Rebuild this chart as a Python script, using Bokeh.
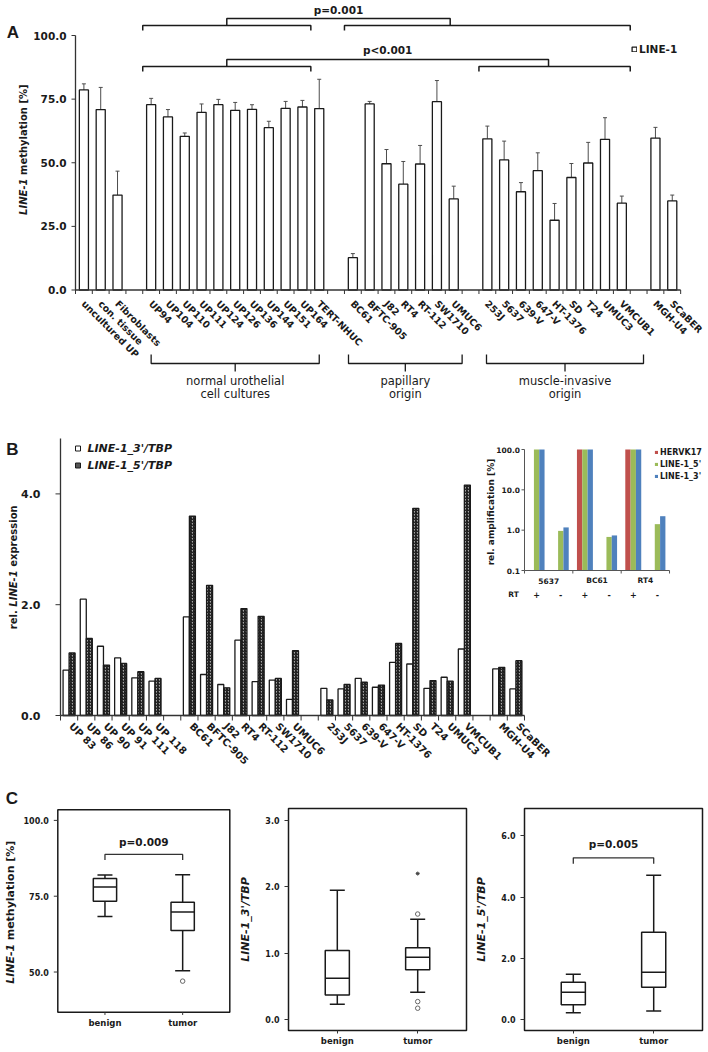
import math
from bokeh.plotting import figure
from bokeh.layouts import column, row
from bokeh.models import (ColumnDataSource, FactorRange, Range1d, FixedTicker, PrintfTickFormatter,
                          Whisker, TeeHead, Legend, LegendItem, LogScale)
from bokeh.transform import dodge
from bokeh.core.properties import value
from bokeh.embed import file_html
from bokeh.resources import INLINE

nan = float("nan")
FONT = "DejaVu Sans"
LETTER_FONT = "Liberation Sans"
INK = "#1a1a1a"
AXIS = "#333333"

# ---------------- Panel A data ----------------
a_samples = ["uncultured UP", "con. tissue", "Fibroblasts",
             "UP94", "UP104", "UP110", "UP111", "UP124", "UP126", "UP136", "UP144", "UP151", "UP164", "TERT-NHUC",
             "BC61", "BFTC-905", "J82", "RT4", "RT-112", "SW1710", "UMUC6",
             "253J", "5637", "639-V", "647-V", "HT-1376", "SD", "T24", "UMUC3", "VMCUB1",
             "MGH-U4", "SCaBER"]
a_methylation = [78.6, 70.9, 37.3,
                 72.8, 68.0, 60.4, 69.8, 72.8, 70.6, 71.0, 63.8, 71.4, 71.9, 71.3,
                 12.7, 73.1, 49.6, 41.6, 49.5, 74.0, 35.8,
                 59.4, 51.1, 38.6, 46.9, 27.4, 44.2, 49.9, 59.2, 34.1,
                 59.7, 35.0]
a_sd = [2.4, 8.7, 9.4,
        2.5, 2.9, 1.3, 3.3, 2.1, 3.1, 1.8, 2.5, 2.7, 2.6, 11.5,
        1.6, 1.0, 5.6, 8.9, 7.3, 8.3, 5.0,
        5.0, 7.4, 3.6, 7.0, 6.6, 5.5, 8.1, 8.5, 2.8,
        4.2, 2.3]
a_gap_after = ["Fibroblasts", "TERT-NHUC", "UMUC6", "VMCUB1"]
a_yticks = [0, 25, 50, 75, 100]
a_comparisons = ["p=0.001", "p<0.001"]
a_cmp_ref = [("UP94", "UP164"), ("UP94", "UP164")]
a_cmp_test = [("BC61", "VMCUB1"), ("253J", "VMCUB1")]
a_subsets = ["normal urothelial\ncell cultures", "papillary\norigin", "muscle-invasive\norigin"]
a_subset_span = [("UP94", "TERT-NHUC"), ("BC61", "UMUC6"), ("253J", "VMCUB1")]

# ---------------- Panel B data ----------------
b_samples = ["UP 83", "UP 86", "UP 90", "UP 91", "UP 111", "UP 118",
             "BC61", "BFTC-905", "J82", "RT4", "RT-112", "SW1710", "UMUC6",
             "253J", "5637", "639-V", "647-V", "HT-1376", "SD", "T24", "UMUC3", "VMCUB1",
             "MGH-U4", "SCaBER"]
b_line1_3 = [0.82, 2.10, 1.25, 1.04, 0.68, 0.62,
             1.78, 0.74, 0.56, 1.36, 0.61, 0.64, 0.29,
             0.49, 0.48, 0.67, 0.51, 0.96, 0.93, 0.49, 0.69, 1.20,
             0.84, 0.48]
b_line1_5 = [1.13, 1.39, 0.91, 0.94, 0.79, 0.67,
             3.60, 2.35, 0.50, 1.93, 1.79, 0.67, 1.17,
             0.28, 0.56, 0.60, 0.55, 1.30, 3.74, 0.63, 0.62, 4.16,
             0.87, 0.99]
b_gap_after = ["UP 118", "UMUC6", "VMCUB1"]
b_yticks = [0, 2, 4]
b_series = ["LINE-1_3'/TBP", "LINE-1_5'/TBP"]

# inset
inset_lines = ["5637", "BC61", "RT4"]
inset_rt = ["+", "-"]
inset_hervk17 = [nan, nan, 100.0, nan, 100.0, nan]
inset_line1_5 = [100.0, 0.96, 100.0, 0.68, 100.0, 1.41]
inset_line1_3 = [100.0, 1.17, 100.0, 0.74, 100.0, 2.22]
inset_series = ["HERVK17", "LINE-1_5'", "LINE-1_3'"]
inset_yticks = [0.1, 1.0, 10.0, 100.0]

# ---------------- Panel C data ----------------
c_groups = ["benign", "tumor"]
c_meth_q1 = [73.3, 63.7]
c_meth_med = [78.0, 69.8]
c_meth_q3 = [80.8, 73.0]
c_meth_lo = [68.3, 50.4]
c_meth_hi = [82.0, 82.1]
c_meth_out_grp = ["tumor"]
c_meth_out = [47.0]
c_meth_yticks = [50, 75, 100]

c_l3_q1 = [0.37, 0.75]
c_l3_med = [0.62, 0.94]
c_l3_q3 = [1.04, 1.08]
c_l3_lo = [0.23, 0.41]
c_l3_hi = [1.95, 1.51]
c_l3_out_grp = ["tumor", "tumor", "tumor"]
c_l3_out = [1.59, 0.27, 0.17]
c_l3_ext_grp = ["tumor"]
c_l3_ext = [2.2]

c_l5_q1 = [0.48, 1.05]
c_l5_med = [0.89, 1.54]
c_l5_q3 = [1.22, 2.85]
c_l5_lo = [0.22, 0.28]
c_l5_hi = [1.48, 4.71]

c_pvalues = ["p=0.009", "p=0.005"]


# ---------------- helpers ----------------
def with_gaps(samples, gap_after):
    out, k = [], 0
    for s in samples:
        out.append(s)
        if s in gap_after:
            k += 1
            out.append(" " * k)
    return out


def clean(p):
    for g in p.grid:
        g.visible = False
    p.outline_line_color = None


def txt(p, x, y, t, size, style="bold", align="center", baseline="middle", angle=0.0, font=FONT, **kw):
    return p.text(x=x, y=y, text=t, angle=angle, text_font=value(font), text_font_size=size,
                  text_font_style=style, text_align=align, text_baseline=baseline, text_color=INK, **kw)


# =============== Panel A (frame covers the canvas; axes drawn in data space) ===============
A_H = 418
def sA(px): return (px - 75.0) / 16.81
def vA(py): return (289.5 - py) / 2.545

a_factors = with_gaps(a_samples, a_gap_after)
NA = len(a_factors)
a_x = [a_factors.index(s) + 0.5 for s in a_samples]

pA = figure(width=708, height=A_H, x_range=Range1d(sA(0), sA(708)), y_range=Range1d(vA(A_H), vA(0)),
            x_axis_location=None, y_axis_location=None, min_border=0,
            output_backend="svg", toolbar_location=None)
clean(pA)
srcA = ColumnDataSource(dict(x=a_x, sample=a_samples, meth=a_methylation,
                             upper=[m + s for m, s in zip(a_methylation, a_sd)]))
barsA = pA.vbar(x="x", top="meth", bottom=0, width=0.54, source=srcA,
                fill_color="white", line_color=INK, line_width=1.3)
pA.add_layout(Whisker(source=srcA, base="x", lower="meth", upper="upper",
                      line_color="#4d4d4d", line_width=1,
                      upper_head=TeeHead(size=4, line_color="#4d4d4d", line_width=1), lower_head=None))
# y axis
pA.segment(x0=[0], y0=[a_yticks[0]], x1=[0], y1=[a_yticks[-1]], line_color=AXIS, line_width=1.3)
pA.segment(x0=[sA(71)] * len(a_yticks), y0=a_yticks, x1=[0] * len(a_yticks), y1=a_yticks,
           line_color=AXIS, line_width=1)
txt(pA, [sA(66)] * len(a_yticks), a_yticks, ["%.1f" % t for t in a_yticks], "10.5px", align="right")
# x axis
bnd = list(range(NA + 1))
pA.segment(x0=[0], y0=[0], x1=[NA], y1=[0], line_color=AXIS, line_width=1.3)
pA.segment(x0=bnd, y0=[0] * len(bnd), x1=bnd, y1=[-4 / 2.545] * len(bnd), line_color=AXIS, line_width=1)
txt(pA, "x", 0, "sample", "9.5px", align="left", angle=-math.pi / 4, source=srcA, x_offset=-0.5, y_offset=12)

# comparison brackets (top)
cmp_level_px = [25, 66]
cmp_text_px = [9.7, 49]
cmp_joint_frac = [0.37, 0.46]
cxs, cys, tx, ty = [], [], [], []
for i in range(len(a_comparisons)):
    lv, ld, lj_y = vA(cmp_level_px[i]), vA(cmp_level_px[i] + 5), vA(cmp_level_px[i] - 7)
    l0 = a_factors.index(a_cmp_ref[i][0]); l1 = a_factors.index(a_cmp_ref[i][1]) + 1
    r0 = a_factors.index(a_cmp_test[i][0]); r1 = a_factors.index(a_cmp_test[i][1]) + 1
    lj = (l0 + l1) / 2
    rj = r0 + cmp_joint_frac[i] * (r1 - r0)
    cxs += [[l0, l0, l1, l1], [r0, r0, r1, r1], [lj, lj, rj, rj]]
    cys += [[ld, lv, lv, ld], [ld, lv, lv, ld], [lv, lj_y, lj_y, lv]]
    tx.append((lj + rj) / 2)
    ty.append(vA(cmp_text_px[i]))
pA.multi_line(xs=cxs, ys=cys, line_color=INK, line_width=1.5)
txt(pA, tx, ty, a_comparisons, "10.5px")

# subset brackets (below the labels)
sub_pad_l = [0.0, -0.26, -0.05]
sub_pad_r = [0.0, 0.5, 1.29]
sxs, sys_, stx, sty, stt = [], [], [], [], []
for k, (first, last) in enumerate(a_subset_span):
    l = a_factors.index(first) + 0.5 + sub_pad_l[k]
    r = a_factors.index(last) + 0.5 + sub_pad_r[k]
    c = (l + r) / 2
    sxs += [[l, l, r, r], [c, c]]
    sys_ += [[vA(354), vA(363), vA(363), vA(354)], [vA(363), vA(371)]]
    for j, line in enumerate(a_subsets[k].split("\n")):
        stx.append(c)
        sty.append(vA(380 + 13 * j))
        stt.append(line)
pA.multi_line(xs=sxs, ys=sys_, line_color=INK, line_width=1.3)
txt(pA, stx, sty, stt, "11.5px", style="normal")

legA = Legend(items=[LegendItem(label="LINE-1", renderers=[barsA])], location=(631, A_H - 55),
              glyph_width=6, glyph_height=6, label_standoff=2, label_height=12, label_width=10,
              padding=0, margin=0, spacing=0, border_line_color=None, background_fill_alpha=0,
              label_text_font=FONT, label_text_font_style="bold", label_text_font_size="10.5px",
              label_text_color=INK)
pA.add_layout(legA)
txt(pA, [sA(23)], [vA(178)], ["LINE-1"], "10px", style="bold italic", align="right", angle=math.pi / 2)
txt(pA, [sA(23)], [vA(174.5)], ["methylation [%]"], "10px", align="left", angle=math.pi / 2)
txt(pA, [sA(12.5)], [vA(32)], ["A"], "17px", font=LETTER_FONT)

# =============== Panel B (+ inset on its own ranges) ===============
B_TOP, B_BOT = 418, 807
def sB(px): return (px - 60.0) / 17.185
def vB(py): return (715.0 - py) / 55.4
def tI(px): return (px - 524.0) / 24.17
def lI(py): return 10 ** ((570.0 - py) / 40.33 - 1)

b_factors = with_gaps(b_samples, b_gap_after)
NB = len(b_factors)
b_x = [b_factors.index(s) + 0.5 for s in b_samples]

pB = figure(width=708, height=B_BOT - B_TOP, x_range=Range1d(sB(0), sB(708)),
            y_range=Range1d(vB(B_BOT), vB(B_TOP)), x_axis_location=None, y_axis_location=None,
            min_border=0, output_backend="svg", toolbar_location=None,
            extra_x_ranges={"inset": Range1d(tI(0), tI(708))},
            extra_y_ranges={"inset": Range1d(lI(B_BOT), lI(B_TOP))},
            extra_y_scales={"inset": LogScale()})
clean(pB)
HATCH = dict(fill_color="#a8a8a8", hatch_pattern="/", hatch_color="#111111", hatch_scale=3, hatch_weight=1.2)
srcB = ColumnDataSource(dict(x=b_x, sample=b_samples, l3=b_line1_3, l5=b_line1_5))
r3 = pB.vbar(x=dodge("x", -0.175), top="l3", bottom=0, width=0.35, source=srcB,
             fill_color="white", line_color=INK, line_width=1.3)
r5 = pB.vbar(x=dodge("x", 0.175), top="l5", bottom=0, width=0.35, source=srcB,
             line_color=INK, line_width=1.3, **HATCH)
# axes
pB.segment(x0=[0], y0=[0], x1=[0], y1=[5], line_color=AXIS, line_width=1.3)
pB.segment(x0=[sB(55)] * len(b_yticks), y0=b_yticks, x1=[0] * len(b_yticks), y1=b_yticks,
           line_color=AXIS, line_width=1)
txt(pB, [sB(40)] * len(b_yticks), b_yticks, ["%.1f" % t for t in b_yticks], "11px", align="right")
bndB = list(range(NB + 1))
pB.segment(x0=[0], y0=[0], x1=[NB], y1=[0], line_color=AXIS, line_width=1.3)
pB.segment(x0=bndB, y0=[0] * len(bndB), x1=bndB, y1=[-5 / 55.4] * len(bndB), line_color=AXIS, line_width=1)
txt(pB, "x", 0, "sample", "10px", align="left", angle=-math.pi / 4, source=srcB, x_offset=2, y_offset=9)
# legend (drawn as glyphs)
pB.rect(x=[sB(77.5)], y=[vB(448)], width=5, height=5, width_units="screen", height_units="screen",
        fill_color="white", line_color=INK, line_width=1)
pB.rect(x=[sB(77.5)], y=[vB(465)], width=5, height=5, width_units="screen", height_units="screen",
        line_color=INK, line_width=1, fill_color="#555555")
txt(pB, [sB(87), sB(87)], [vB(448), vB(465)], b_series, "11px", style="bold italic", align="left")
# y title
txt(pB, [sB(13.3)], [vB(609.7)], ["rel."], "10px", align="right", angle=math.pi / 2)
txt(pB, [sB(13.3)], [vB(606.2)], ["LINE-1"], "10px", style="bold italic", align="left", angle=math.pi / 2)
txt(pB, [sB(13.3)], [vB(566.3)], ["expression"], "10px", align="left", angle=math.pi / 2)
txt(pB, [sB(12)], [vB(449)], ["B"], "17px", font=LETTER_FONT)
txt(pB, [sB(11.5)], [vB(797.5)], ["C"], "17px", font=LETTER_FONT)

# ---- inset ----
inset_factors = [(c, r) for c in inset_lines for r in inset_rt]
inset_x = [i + 0.5 for i in range(len(inset_factors))]
srcI = ColumnDataSource(dict(x=inset_x, herv=inset_hervk17, l5=inset_line1_5, l3=inset_line1_3,
                             rt=[f[1] for f in inset_factors]))
IN = dict(x_range_name="inset", y_range_name="inset")
ri1 = pB.vbar(x=dodge("x", -0.22), top="herv", bottom=0.1, width=0.22, source=srcI,
              fill_color="#c0504d", line_color=None, **IN)
ri2 = pB.vbar(x=dodge("x", 0.0), top="l5", bottom=0.1, width=0.22, source=srcI,
              fill_color="#9bbb59", line_color=None, **IN)
ri3 = pB.vbar(x=dodge("x", 0.22), top="l3", bottom=0.1, width=0.22, source=srcI,
              fill_color="#4f81bd", line_color=None, **IN)
NI = len(inset_factors)
pB.segment(x0=[0], y0=[inset_yticks[0]], x1=[0], y1=[inset_yticks[-1]], line_color="#555555", line_width=1, **IN)
pB.segment(x0=[0], y0=[inset_yticks[0]], x1=[NI], y1=[inset_yticks[0]], line_color="#555555", line_width=1, **IN)
pB.segment(x0=[tI(521)] * len(inset_yticks), y0=inset_yticks, x1=[0] * len(inset_yticks), y1=inset_yticks,
           line_color="#555555", line_width=1, **IN)
grp_bnd = list(range(0, NI + 1, len(inset_rt)))
pB.segment(x0=grp_bnd, y0=[inset_yticks[0]] * len(grp_bnd), x1=grp_bnd, y1=[lI(573)] * len(grp_bnd),
           line_color="#555555", line_width=1, **IN)
txt(pB, [tI(519.5)] * len(inset_yticks), inset_yticks, ["%.1f" % t for t in inset_yticks], "7.5px",
    align="right", **IN)
txt(pB, [tI(490)], [lI(511.5)], ["rel. amplification [%]"], "9px", angle=math.pi / 2, **IN)
grp_c = [len(inset_rt) * (g + 0.5) for g in range(len(inset_lines))]
txt(pB, grp_c, [lI(580)] * len(grp_c), inset_lines, "7.5px", **IN)
txt(pB, "x", lI(594), "rt", "8px", source=srcI, **IN)
txt(pB, [tI(513)], [lI(594)], ["RT"], "7.5px", **IN)
legI = Legend(items=[LegendItem(label=inset_series[0], renderers=[ri1]),
                     LegendItem(label=inset_series[1], renderers=[ri2]),
                     LegendItem(label=inset_series[2], renderers=[ri3])],
              location=(654, B_BOT - 481), glyph_width=4, glyph_height=4, label_standoff=2, label_height=10,
              label_width=10, padding=0, margin=0, spacing=2, border_line_color=None,
              background_fill_alpha=0, label_text_font=FONT, label_text_font_style="bold",
              label_text_font_size="8px", label_text_color=INK)
pB.add_layout(legI)


# =============== Panel C ===============
C_TOP, C_BOT = B_BOT, 1050


def draw_boxes(p, base, rng, q1, med, q3, lo, hi, out_x=None, out_v=None, ext_x=None, ext_v=None):
    src = ColumnDataSource(dict(b=base, q1=q1, med=med, q3=q3, lo=lo, hi=hi))
    p.add_layout(Whisker(source=src, base="b", lower="q3", upper="hi", line_color=INK, line_width=1.5,
                         upper_head=TeeHead(size=15, line_color=INK, line_width=1.5), lower_head=None))
    p.add_layout(Whisker(source=src, base="b", lower="lo", upper="q1", line_color=INK, line_width=1.5,
                         lower_head=TeeHead(size=15, line_color=INK, line_width=1.5), upper_head=None))
    p.vbar(x="b", bottom="q1", top="q3", width=0.3, source=src, fill_color="white",
           line_color=INK, line_width=1.5)
    p.segment(x0=dodge("b", -0.15, range=rng), x1=dodge("b", 0.15, range=rng),
              y0="med", y1="med", source=src, line_color=INK, line_width=1.5)
    if out_v:
        p.scatter(x=out_x, y=out_v, marker="circle", size=4.5, fill_color=None, line_color="#666666",
                  line_width=1)
    if ext_v:
        p.scatter(x=ext_x, y=ext_v, marker="asterisk", size=4, line_color="#444444", line_width=1)


def p_bracket(p, xs, pval, p_level, p_text, ppx):
    d = 6 / ppx
    p.multi_line(xs=[[xs[0], xs[0], xs[1], xs[1]]], ys=[[p_level - d, p_level, p_level, p_level - d]],
                 line_color="#333333", line_width=1.3)
    txt(p, [(xs[0] + xs[1]) / 2 if not isinstance(xs[0], str) else 1.0], [p_text], [pval], "10.5px")


# --- C1: frame covers the canvas so the mixed-style title can be drawn ---
def sC(px): return (px - 57.3) / 77.7 - 0.107
def vC(py): return 100 - (py - 820.0) / 3.32

c_x = [c_groups.index(g) + 0.5 for g in c_groups]
pC1 = figure(width=236, height=C_BOT - C_TOP, x_range=Range1d(sC(0), sC(236)),
             y_range=Range1d(vC(C_BOT), vC(C_TOP)), x_axis_location=None, y_axis_location=None,
             min_border=0, output_backend="svg", toolbar_location=None)
clean(pC1)
pC1.quad(left=[sC(57.3)], right=[sC(229.3)], bottom=[vC(1030)], top=[vC(808.3)], fill_color=None,
         line_color=INK, line_width=1.5)
draw_boxes(pC1, c_x, None, c_meth_q1, c_meth_med, c_meth_q3, c_meth_lo, c_meth_hi,
           out_x=[c_x[c_groups.index(g)] for g in c_meth_out_grp], out_v=c_meth_out)
p_bracket(pC1, c_x, c_pvalues[0], 88.77, 93.0, 3.32)
pC1.segment(x0=[sC(53.3)] * 3, y0=c_meth_yticks, x1=[sC(57.3)] * 3, y1=c_meth_yticks, line_color=AXIS, line_width=1)
txt(pC1, [sC(48.3)] * 3, c_meth_yticks, ["%.1f" % t for t in c_meth_yticks], "8px", align="right")
pC1.segment(x0=c_x, y0=[vC(1030)] * 2, x1=c_x, y1=[vC(1033)] * 2, line_color=AXIS, line_width=1)
txt(pC1, c_x, [vC(1041.5)] * 2, c_groups, "8.5px")
txt(pC1, [sC(10)], [vC(955.1)], ["LINE-1"], "11px", style="bold italic", align="right", angle=math.pi / 2)
txt(pC1, [sC(10)], [vC(951.3)], ["methylation [%]"], "11px", align="left", angle=math.pi / 2)


def box_panel(width, left, right, yr, ticks, q1, med, q3, lo, hi, title,
              out_g=None, out_v=None, ext_g=None, ext_v=None, pval=None, p_level=None, p_text=None, ppx=1.0):
    p = figure(width=width, height=C_BOT - C_TOP, x_range=FactorRange(factors=c_groups, range_padding=0.107),
               y_range=Range1d(*yr), output_backend="svg", toolbar_location=None,
               min_border_left=left, min_border_right=right, min_border_top=1, min_border_bottom=20)
    for g in p.grid:
        g.visible = False
    p.outline_line_color = INK
    p.outline_line_width = 1.5
    draw_boxes(p, c_groups, p.x_range, q1, med, q3, lo, hi, out_g, out_v, ext_g, ext_v)
    if pval:
        p_bracket(p, ["benign", "tumor"], pval, p_level, p_text, ppx)
    ay = p.yaxis[0]
    ay.ticker = FixedTicker(ticks=ticks)
    ay.formatter = PrintfTickFormatter(format="%.1f")
    ay.axis_line_color = None
    ay.major_tick_in = 0
    ay.major_tick_out = 4
    ay.major_tick_line_color = AXIS
    ay.minor_tick_line_color = None
    ay.major_label_standoff = 5
    ay.major_label_text_font = FONT
    ay.major_label_text_font_style = "bold"
    ay.major_label_text_font_size = "8px"
    ay.major_label_text_color = INK
    ay.axis_label = title
    ay.axis_label_text_font = FONT
    ay.axis_label_text_font_style = "bold italic"
    ay.axis_label_text_font_size = "11px"
    ay.axis_label_text_color = INK
    ay.axis_label_standoff = 10
    ax = p.xaxis[0]
    ax.axis_line_color = None
    ax.major_tick_in = 0
    ax.major_tick_out = 3
    ax.major_tick_line_color = AXIS
    ax.major_label_standoff = 2
    ax.major_label_text_font = FONT
    ax.major_label_text_font_style = "bold"
    ax.major_label_text_font_size = "8.5px"
    ax.major_label_text_color = INK
    return p


pC2 = box_panel(236, 49, 6, (-0.166, 3.181), [0, 1, 2, 3], c_l3_q1, c_l3_med, c_l3_q3, c_l3_lo, c_l3_hi,
                "LINE-1_3'/TBP", out_g=c_l3_out_grp, out_v=c_l3_out, ext_g=c_l3_ext_grp, ext_v=c_l3_ext)
pC3 = box_panel(236, 48, 6, (-0.359, 6.892), [0, 2, 4, 6], c_l5_q1, c_l5_med, c_l5_q3, c_l5_lo, c_l5_hi,
                "LINE-1_5'/TBP", pval=c_pvalues[1], p_level=5.28, p_text=5.74, ppx=30.62)

layout = column(pA, pB, row(pC1, pC2, pC3))
open("out.html", "w").write(file_html(layout, INLINE))
